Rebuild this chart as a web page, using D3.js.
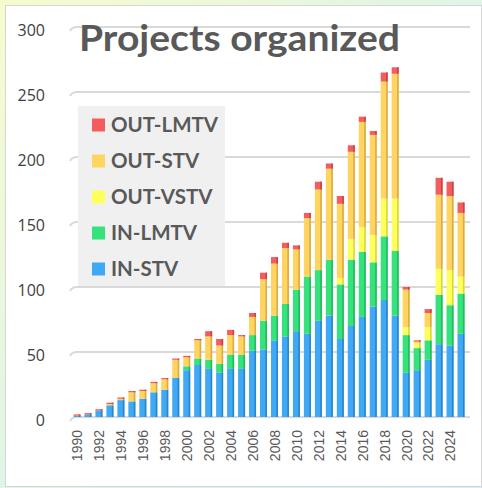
<!DOCTYPE html>
<html>
<head>
<meta charset="utf-8">
<script src="https://cdn.jsdelivr.net/npm/d3@7"></script>
<style>
  body { margin: 0; padding: 0; }
  #plot { width: 482px; height: 488px; }
</style>
</head>
<body>
<div id="plot"></div>
<script>
var years = d3.range(1990, 2026);
var yTicks = [0, 50, 100, 150, 200, 250, 300];
var seriesNames = ["IN-STV", "IN-LMTV", "OUT-VSTV", "OUT-STV", "OUT-LMTV"];
var seriesColors = ["#3fa9f5", "#35e27c", "#ffff5c", "#ffd460", "#f45d5d"];
var seriesSides = ["#2b86c9", "#27b862", "#d8d83e", "#d9ad45", "#c94444"];

var inStv   = [1, 2, 5, 9, 13, 12, 14, 19, 21, 30, 36, 40, 37, 34, 37, 37, 51, 52, 59, 62, 66, 64, 74, 78, 60, 70, 77, 85, 90, 78, 34, 36, 44, 56, 55, 64];
var inLmtv  = [0, 0, 0, 0, 0, 0, 0, 0, 0, 0, 3, 5, 7, 7, 11, 11, 12, 22, 19, 25, 32, 44, 39, 43, 42, 51, 50, 34, 49, 50, 29, 17, 15, 38, 31, 31];
var outVstv = [0, 0, 0, 0, 0, 0, 0, 0, 0, 0, 0, 0, 0, 0, 0, 0, 0, 0, 0, 0, 0, 0, 0, 0, 5, 16, 19, 21, 29, 40, 6, 4, 10, 20, 27, 13];
var outStv  = [0, 0, 0, 1, 1, 7, 6, 7, 8, 14, 7, 14, 18, 14, 15, 14, 14, 32, 40, 43, 31, 45, 62, 70, 57, 67, 81, 77, 90, 96, 29, 1, 11, 57, 57, 49];
var outLmtv = [1, 1, 1, 1, 1, 1, 1, 1, 1, 1, 1, 1, 4, 5, 4, 1, 3, 5, 5, 4, 3, 4, 6, 4, 6, 5, 4, 3, 7, 5, 2, 1, 3, 13, 11, 8];

var svgWidth = 482;
var svgHeight = 488;

var svg = d3.select("#plot")
  .append("svg")
  .attr("width", svgWidth)
  .attr("height", svgHeight);

// soft gradient frame around the white panel
var defs = svg.append("defs");
var grad = defs.append("linearGradient")
  .attr("id", "frame")
  .attr("x1", "0").attr("y1", "0")
  .attr("x2", "1").attr("y2", "1");
grad.append("stop").attr("offset", "0%").attr("stop-color", "#f8fbcf");
grad.append("stop").attr("offset", "50%").attr("stop-color", "#dff5e6");
grad.append("stop").attr("offset", "100%").attr("stop-color", "#d2eefb");

svg.append("rect")
  .attr("width", svgWidth)
  .attr("height", svgHeight)
  .attr("fill", "url(#frame)");

svg.append("rect")
  .attr("x", 5.5)
  .attr("y", 5.5)
  .attr("width", 476)
  .attr("height", 481)
  .attr("fill", "#ffffff")
  .attr("stroke", "#d6d6d6");

var xScale = d3.scalePoint()
  .domain(years)
  .range([77, 461]);

var yScale = d3.scaleLinear()
  .domain([0, 300])
  .range([417, 27]);

// gridlines, with the little slanted foot of the 3D wall
var grid = svg.append("g");
yTicks.forEach(function(t) {
  var y = yScale(t);
  grid.append("path")
    .attr("d", "M70," + (y + 4) + " Q72," + y + " 77," + y + " L470," + y)
    .attr("fill", "none")
    .attr("stroke", "#d9d9d9")
    .attr("stroke-width", 2);
});

// y axis labels
var leftAxis = d3.axisLeft(yScale).tickValues(yTicks).tickSize(0).tickPadding(0);
var yAxis = svg.append("g")
  .attr("transform", "translate(45, 3)")
  .call(leftAxis);
yAxis.select(".domain").remove();
yAxis.selectAll("text")
  .attr("font-family", "'Open Sans', sans-serif")
  .attr("font-size", "16px")
  .attr("fill", "#404040");

// x axis labels, every second year
var bottomAxis = d3.axisBottom(xScale)
  .tickValues(years.filter(function(d) { return d % 2 === 0; }))
  .tickSize(0);
var xAxis = svg.append("g")
  .attr("transform", "translate(0, 428)")
  .call(bottomAxis);
xAxis.select(".domain").remove();
xAxis.selectAll("text")
  .attr("font-family", "'Liberation Sans', Arial, sans-serif")
  .attr("font-size", "14px")
  .attr("fill", "#595959")
  .attr("text-anchor", "end")
  .attr("dy", "0.35em")
  .attr("transform", "rotate(-90)")
  .attr("x", -2)
  .attr("y", 0);

// stacked bars
var table = years.map(function(yr, i) {
  return {
    year: yr,
    "IN-STV": inStv[i],
    "IN-LMTV": inLmtv[i],
    "OUT-VSTV": outVstv[i],
    "OUT-STV": outStv[i],
    "OUT-LMTV": outLmtv[i]
  };
});
var stacked = d3.stack().keys(seriesNames)(table);

var barWidth = 7;
var layers = svg.append("g").selectAll("g")
  .data(stacked)
  .enter()
  .append("g");

layers.each(function(layer, k) {
  var g = d3.select(this);
  var segs = layer.filter(function(d) { return d[1] > d[0]; });
  g.selectAll(".face")
    .data(segs)
    .enter()
    .append("rect")
    .attr("x", function(d) { return xScale(d.data.year) - barWidth / 2; })
    .attr("y", function(d) { return yScale(d[1]); })
    .attr("width", barWidth)
    .attr("height", function(d) { return yScale(d[0]) - yScale(d[1]); })
    .attr("fill", seriesColors[k]);
  g.selectAll(".side")
    .data(segs)
    .enter()
    .append("rect")
    .attr("x", function(d) { return xScale(d.data.year) + barWidth / 2 - 1.6; })
    .attr("y", function(d) { return yScale(d[1]); })
    .attr("width", 1.6)
    .attr("height", function(d) { return yScale(d[0]) - yScale(d[1]); })
    .attr("fill", seriesSides[k]);
});

// title
svg.append("text")
  .attr("x", 79)
  .attr("y", 51)
  .attr("font-family", "Lato, sans-serif")
  .attr("font-weight", "bold")
  .attr("font-size", "37px")
  .attr("textLength", 321)
  .attr("lengthAdjust", "spacingAndGlyphs")
  .attr("fill", "#595959")
  .text("Projects organized");

// legend box
var legend = svg.append("g");
legend.append("rect")
  .attr("x", 78)
  .attr("y", 106)
  .attr("width", 147)
  .attr("height", 180)
  .attr("fill", "#f0f0f0");

var legendOrder = seriesNames.slice().reverse();
var legendColors = seriesColors.slice().reverse();
legendOrder.forEach(function(name, i) {
  var cy = 125 + i * 36;
  legend.append("rect")
    .attr("x", 92)
    .attr("y", cy - 6.5)
    .attr("width", 13)
    .attr("height", 13)
    .attr("fill", legendColors[i]);
  legend.append("text")
    .attr("x", 111)
    .attr("y", cy + 7)
    .attr("font-family", "Lato, sans-serif")
    .attr("font-weight", "bold")
    .attr("font-size", "20.5px")
    .attr("fill", "#595959")
    .text(name);
});
</script>
</body>
</html>
